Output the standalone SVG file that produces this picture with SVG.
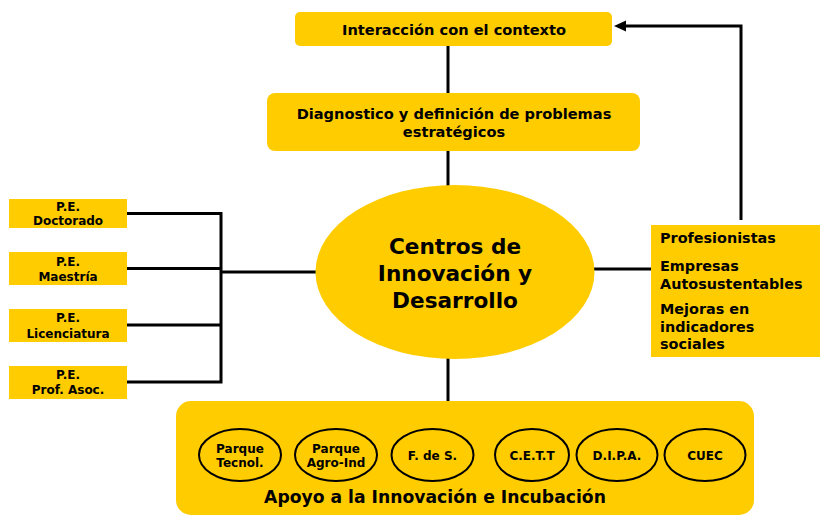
<svg xmlns="http://www.w3.org/2000/svg" width="820" height="516" viewBox="0 0 820 516">
<defs>
<style>
.box{fill:#FFCC00;}
.t{font-family:"DejaVu Sans","Liberation Sans",sans-serif;font-weight:bold;fill:#000;}
.s11{font-size:12px;text-anchor:middle;}
.s14{font-size:14.6px;}
.sr{font-size:14.4px;}
.s21{font-size:21.6px;text-anchor:middle;}
.s16{font-size:17.2px;text-anchor:middle;}
.c{stroke:#000;stroke-width:3;fill:none;}
.ov{fill:none;stroke:#000;stroke-width:2;}
</style>
</defs>
<rect width="820" height="516" fill="#fff"/>

<g id="connectors">
<line class="c" x1="448" y1="46" x2="448" y2="93"/>
<line class="c" x1="448" y1="150" x2="448" y2="186"/>
<line class="c" x1="448" y1="358" x2="448" y2="401"/>
<polyline class="c" points="127,213.5 221,213.5 221,382 127,382"/>
<line class="c" x1="127" y1="268.5" x2="221" y2="268.5"/>
<line class="c" x1="127" y1="325" x2="221" y2="325"/>
<line class="c" x1="221" y1="272" x2="317" y2="272"/>
<line class="c" x1="593" y1="269" x2="651" y2="269"/>
<polyline class="c" points="741,220 741,26 624,26"/>
<path d="M626,20.5 L614,26 L626,31.5 Z" fill="#000"/>
</g>

<g id="interaccion">
<rect class="box" x="295" y="12" width="317" height="34" rx="5"/>
<text class="t s14" x="454" y="35" text-anchor="middle">Interacción con el contexto</text>
</g>

<g id="diagnostico">
<rect class="box" x="267" y="93" width="373" height="58" rx="8"/>
<text class="t s14" x="454" y="119" text-anchor="middle">Diagnostico y definición de problemas</text>
<text class="t s14" x="454" y="137" text-anchor="middle">estratégicos</text>
</g>

<g id="centros">
<ellipse class="box" cx="455" cy="272" rx="139.5" ry="87"/>
<text class="t s21" x="455" y="254">Centros de</text>
<text class="t s21" x="455" y="281">Innovación y</text>
<text class="t s21" x="455" y="308">Desarrollo</text>
</g>

<g id="pe-doctorado">
<rect class="box" x="9" y="199" width="118" height="29"/>
<text class="t s11" x="68" y="211">P.E.</text>
<text class="t s11" x="68" y="225">Doctorado</text>
</g>
<g id="pe-maestria">
<rect class="box" x="9" y="252" width="118" height="33"/>
<text class="t s11" x="68" y="266">P.E.</text>
<text class="t s11" x="68" y="281">Maestría</text>
</g>
<g id="pe-licenciatura">
<rect class="box" x="9" y="309" width="118" height="33"/>
<text class="t s11" x="68" y="322">P.E.</text>
<text class="t s11" x="68" y="338">Licenciatura</text>
</g>
<g id="pe-profasoc">
<rect class="box" x="9" y="366" width="118" height="33"/>
<text class="t s11" x="68" y="379">P.E.</text>
<text class="t s11" x="68" y="394">Prof. Asoc.</text>
</g>

<g id="resultados">
<rect class="box" x="651" y="225" width="169" height="132"/>
<text class="t sr" x="660" y="243">Profesionistas</text>
<text class="t sr" x="660" y="271">Empresas</text>
<text class="t sr" x="660" y="289">Autosustentables</text>
<text class="t sr" x="660" y="314">Mejoras en</text>
<text class="t sr" x="660" y="332">indicadores</text>
<text class="t sr" x="660" y="349">sociales</text>
</g>

<g id="apoyo">
<rect class="box" x="176" y="401" width="578" height="114" rx="15"/>
<text class="t s16" x="435" y="503">Apoyo a la Innovación e Incubación</text>
</g>
<g id="parque-tecnol">
<ellipse class="ov" cx="240" cy="455" rx="41" ry="26"/>
<text class="t s11" x="240" y="453">Parque</text>
<text class="t s11" x="240" y="467">Tecnol.</text>
</g>
<g id="parque-agro">
<ellipse class="ov" cx="336" cy="455" rx="41" ry="26"/>
<text class="t s11" x="336" y="453">Parque</text>
<text class="t s11" x="336" y="467">Agro-Ind</text>
</g>
<g id="fds">
<ellipse class="ov" cx="432.5" cy="455" rx="41" ry="26"/>
<text class="t s11" x="432.5" y="460">F. de S.</text>
</g>
<g id="cett">
<ellipse class="ov" cx="532" cy="455" rx="37" ry="26"/>
<text class="t s11" x="532" y="460">C.E.T.T</text>
</g>
<g id="dipa">
<ellipse class="ov" cx="617" cy="455" rx="40.5" ry="26"/>
<text class="t s11" x="617" y="460">D.I.P.A.</text>
</g>
<g id="cuec">
<ellipse class="ov" cx="705" cy="455" rx="40.5" ry="26"/>
<text class="t s11" x="705" y="460">CUEC</text>
</g>
</svg>
